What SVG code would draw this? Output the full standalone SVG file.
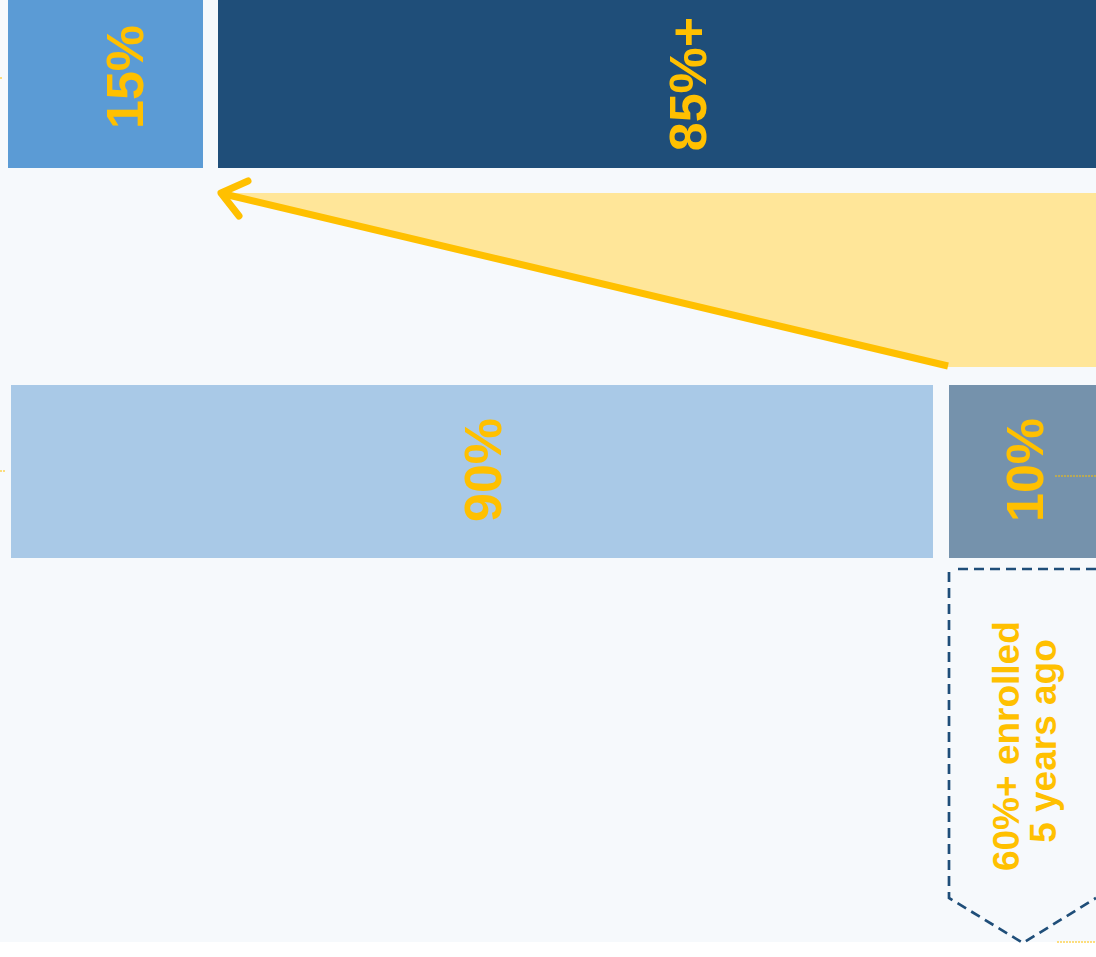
<svg xmlns="http://www.w3.org/2000/svg" width="1096" height="957" viewBox="0 0 1096 957">
  <style>
    .val { font-family: "Liberation Sans", Arial, sans-serif; font-weight: bold; fill: #ffc000; text-anchor: middle; }
    .big { font-size: 52px; }
    .note { font-size: 37px; }
    .stub { stroke: #ffc000; stroke-width: 1; stroke-dasharray: 2 1; fill: none; }
  </style>
  <rect x="0" y="0" width="1096" height="957" fill="#ffffff"/>
  <rect x="0" y="0" width="1096" height="942" fill="#f6f9fc"/>

  <g id="stubs">
    <line class="stub" x1="0" y1="78" x2="3" y2="78"/>
    <line class="stub" x1="0" y1="471" x2="5" y2="471"/>
    <line class="stub" x1="1057" y1="942" x2="1096" y2="942"/>
  </g>

  <g id="node-15">
    <rect x="8" y="0" width="195" height="168" fill="#5b9bd5"/>
    <text class="val big" transform="translate(143,77) rotate(-90)">15%</text>
  </g>

  <g id="node-85">
    <rect x="218" y="0" width="878" height="168" fill="#1f4e79"/>
    <text class="val big" transform="translate(706,84) rotate(-90)">85%+</text>
  </g>

  <g id="node-90">
    <rect x="11" y="385" width="922" height="173" fill="#a9c9e7"/>
    <text class="val big" transform="translate(501,470) rotate(-90)">90%</text>
  </g>

  <g id="node-10">
    <rect x="949" y="385" width="147" height="173" fill="#7592ac"/>
    <line class="stub" x1="1055" y1="476" x2="1096" y2="476"/>
    <text class="val big" transform="translate(1043,470) rotate(-90)">10%</text>
  </g>

  <g id="node-enrolled">
    <path d="M1096,569 L955,569 M949,572 L949,898 L1023,943 L1096,898" fill="none" stroke="#1f4e79" stroke-width="2.7" stroke-dasharray="10 6"/>
    <text class="val note" transform="translate(1019,741) rotate(-90)">
      <tspan x="0" y="0">60%+ enrolled</tspan>
      <tspan x="0" y="37">5 years ago</tspan>
    </text>
  </g>

  <g id="connectors">
    <polygon points="220,193 1096,193 1096,367 948,367" fill="#ffe699"/>
    <line x1="948" y1="366" x2="224" y2="194" stroke="#ffc000" stroke-width="7"/>
    <polyline points="248,181 221,193 239,216" fill="none" stroke="#ffc000" stroke-width="7" stroke-linecap="round" stroke-linejoin="round"/>
  </g>
</svg>
